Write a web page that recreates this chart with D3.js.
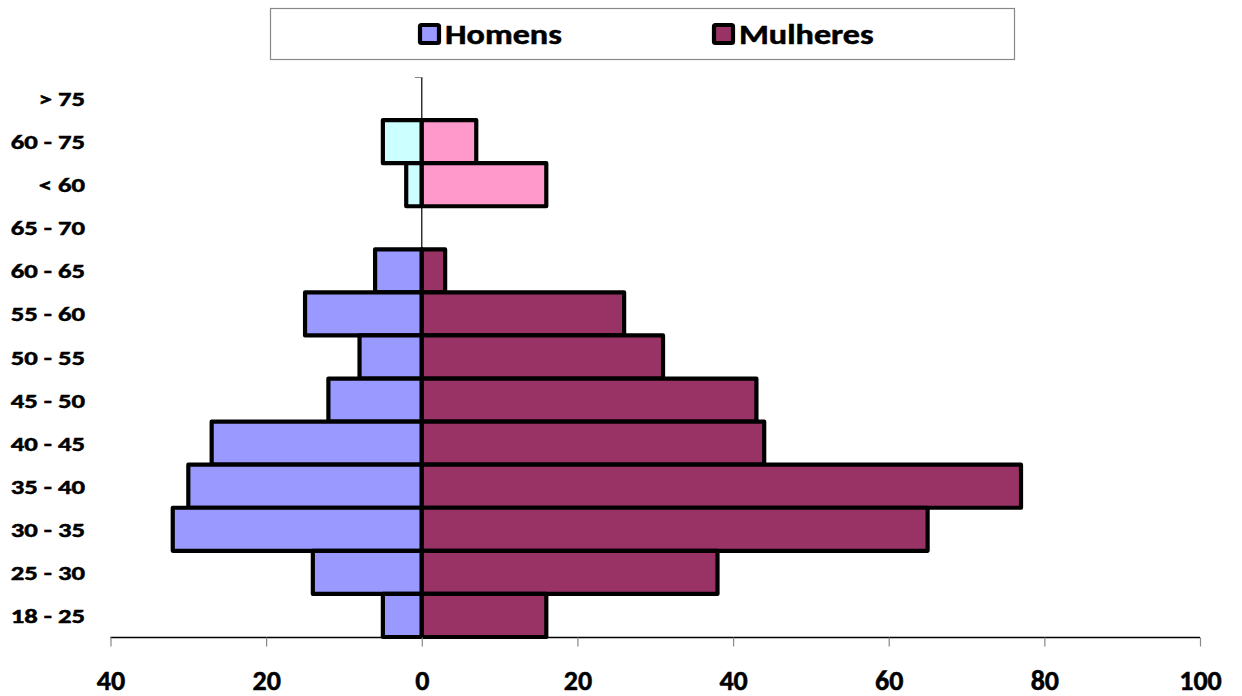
<!DOCTYPE html>
<html>
<head>
<meta charset="utf-8">
<script src="https://cdn.jsdelivr.net/npm/d3@7"></script>
<style>
html,body{margin:0;padding:0;background:#fff;}
svg{display:block;}
text{font-family:Carlito,Lato,"Open Sans",sans-serif;font-weight:bold;fill:#000;stroke:#000;stroke-width:0.5px;}
</style>
</head>
<body>
<svg id="chart" width="1242" height="696"></svg>
<script>
const categories = ["> 75","60 - 75","< 60","65 - 70","60 - 65","55 - 60","50 - 55","45 - 50","40 - 45","35 - 40","30 - 35","25 - 30","18 - 25"];
const homens   = [0, 5, 2, 0, 6, 15, 8, 12, 27, 30, 32, 14, 5];
const mulheres = [0, 7, 16, 0, 3, 26, 31, 43, 44, 77, 65, 38, 16];
const highlighted = ["60 - 75","< 60"];
const xTicks = [-40,-20,0,20,40,60,80,100];
const seriesNames = ["Homens","Mulheres"];
const colors = {Homens:"#9999FF", Mulheres:"#993366"};
const highlightColors = {Homens:"#CCFFFF", Mulheres:"#FF99CC"};

const svg = d3.select("#chart");
const x = d3.scaleLinear().domain([-40,100]).range([110.5,1200]);
const y = d3.scaleBand().domain(categories).range([77,637]).padding(0);

// zero axis line
svg.append("line").attr("x1",x(0)).attr("x2",x(0)).attr("y1",77).attr("y2",637)
  .attr("stroke","#000").attr("stroke-width",1.2);
svg.append("line").attr("x1",x(0)-7).attr("x2",x(0)).attr("y1",77.5).attr("y2",77.5)
  .attr("stroke","#888").attr("stroke-width",1);

const rows = categories.map((c,i)=>({cat:c,h:homens[i],m:mulheres[i]}));

const g = svg.append("g");
g.selectAll("rect.h").data(rows.filter(d=>d.h>0)).join("rect")
  .attr("class","h")
  .attr("x",d=>x(-d.h)).attr("width",d=>x(0)-x(-d.h))
  .attr("y",d=>y(d.cat)).attr("height",y.bandwidth())
  .attr("fill",d=>highlighted.includes(d.cat)?highlightColors.Homens:colors.Homens)
  .attr("stroke","#000").attr("stroke-width",4.2).attr("stroke-linejoin","round");
g.selectAll("rect.m").data(rows.filter(d=>d.m>0)).join("rect")
  .attr("class","m")
  .attr("x",x(0)).attr("width",d=>x(d.m)-x(0))
  .attr("y",d=>y(d.cat)).attr("height",y.bandwidth())
  .attr("fill",d=>highlighted.includes(d.cat)?highlightColors.Mulheres:colors.Mulheres)
  .attr("stroke","#000").attr("stroke-width",4.2).attr("stroke-linejoin","round");

// category labels
svg.append("g").selectAll("text").data(categories).join("text")
  .attr("transform",d=>`translate(85,${y(d)+y.bandwidth()/2+7.5}) scale(1.27,1)`)
  .attr("text-anchor","end")
  .style("font-size","21px").text(d=>d);

// x axis
const xAxis = d3.axisBottom(x).tickValues(xTicks).tickSize(9).tickFormat(d=>Math.abs(d));
const ax = svg.append("g").attr("transform","translate(0,637.5)").call(xAxis);
ax.select(".domain").attr("stroke","#000").attr("stroke-width",1.5).attr("d",`M${x(-40)},0H${x(100)}`);
ax.selectAll(".tick line").attr("stroke","#888").attr("stroke-width",1.2);
ax.selectAll(".tick text").attr("y",null).attr("dy",null)
  .attr("transform","translate(0,52)").attr("font-size",null)
  .style("font-size","28px").style("font-family","Carlito,Lato,'Open Sans',sans-serif").style("font-weight","bold")
  .attr("fill","#000");

// legend
const leg = svg.append("g");
leg.append("rect").attr("x",270.5).attr("y",8.5).attr("width",744).attr("height",51)
  .attr("fill","#fff").attr("stroke","#888").attr("stroke-width",1.2);
const legPos = [{name:"Homens",x:418},{name:"Mulheres",x:712}];
legPos.forEach(p=>{
  leg.append("rect").attr("x",p.x+2).attr("y",25).attr("width",19).attr("height",18)
    .attr("fill",colors[p.name]).attr("stroke","#000").attr("stroke-width",4.2).attr("rx",1.5);
  leg.append("text").attr("transform",`translate(${p.x+27},44) scale(1.22,1)`)
    .style("font-size","28px").text(p.name);
});
</script>
</body>
</html>
